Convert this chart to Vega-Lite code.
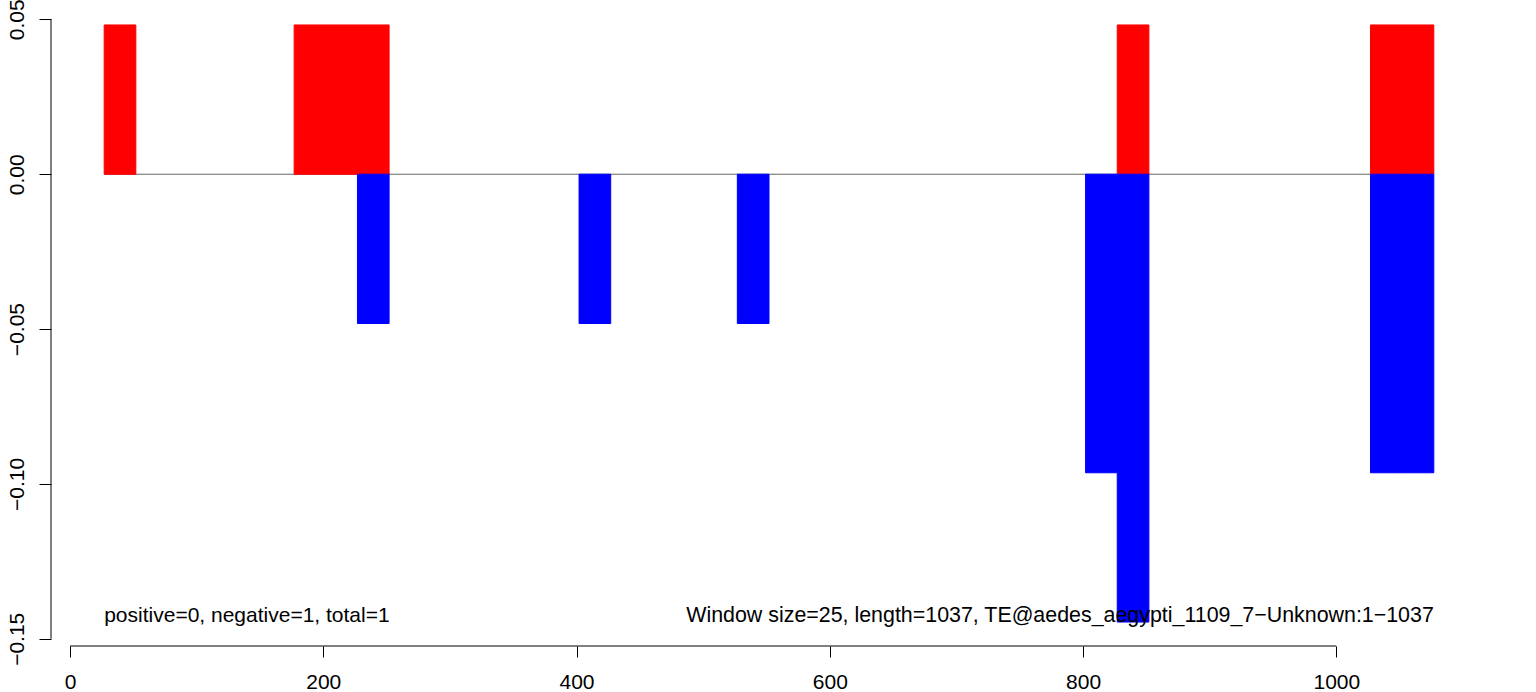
{
  "$schema": "https://vega.github.io/schema/vega-lite/v6.json",
  "width": 1436,
  "height": 645,
  "autosize": {"type": "none"},
  "padding": {"left": 51, "top": 1, "right": 49, "bottom": 46},
  "background": "white",
  "config": {"view": {"stroke": null}, "font": "Liberation Sans"},
  "datasets": {
    "bars": [
      {"start": 27, "end": 52, "value": 0.0482, "sign": "positive"},
      {"start": 177, "end": 202, "value": 0.0482, "sign": "positive"},
      {"start": 202, "end": 227, "value": 0.0482, "sign": "positive"},
      {"start": 227, "end": 252, "value": 0.0482, "sign": "positive"},
      {"start": 827, "end": 852, "value": 0.0482, "sign": "positive"},
      {"start": 1027, "end": 1052, "value": 0.0482, "sign": "positive"},
      {"start": 1052, "end": 1077, "value": 0.0482, "sign": "positive"},
      {"start": 227, "end": 252, "value": -0.0482, "sign": "negative"},
      {"start": 402, "end": 427, "value": -0.0482, "sign": "negative"},
      {"start": 527, "end": 552, "value": -0.0482, "sign": "negative"},
      {"start": 802, "end": 827, "value": -0.0964, "sign": "negative"},
      {"start": 827, "end": 852, "value": -0.1446, "sign": "negative"},
      {"start": 1027, "end": 1052, "value": -0.0964, "sign": "negative"},
      {"start": 1052, "end": 1077, "value": -0.0964, "sign": "negative"}
    ]
  },
  "layer": [
    {
      "data": {"values": [{}]},
      "mark": {"type": "rule", "color": "#666666", "strokeWidth": 1},
      "encoding": {
        "x": {
          "datum": 27, "type": "quantitative",
          "scale": {"domain": [-15, 1119], "nice": false, "zero": false},
          "axis": {
            "values": [0, 200, 400, 600, 800, 1000], "format": "d", "title": null, "grid": false, "domain": false,
            "tickSize": 11, "tickColor": "black", "tickWidth": 1,
            "labelFontSize": 21, "labelColor": "black", "labelPadding": 14, "labelFont": "Liberation Sans", "labelFlush": false
          }
        },
        "x2": {"datum": 1077},
        "y": {
          "datum": 0, "type": "quantitative",
          "scale": {"domain": [-0.15233, 0.05593], "nice": false, "zero": false},
          "axis": {
            "values": [-0.15, -0.1, -0.05, 0, 0.05], "format": ".2f", "title": null, "grid": false, "domain": false,
            "tickSize": 12, "tickColor": "black", "tickWidth": 1,
            "labelAngle": 270, "labelAlign": "center", "labelBaseline": "bottom",
            "labelFontSize": 21, "labelColor": "black", "labelPadding": 12, "labelFont": "Liberation Sans", "labelFlush": false
          }
        }
      }
    },
    {
      "data": {"name": "bars"},
      "mark": {"type": "rect", "strokeWidth": 1},
      "encoding": {
        "x": {"field": "start", "type": "quantitative"},
        "x2": {"field": "end"},
        "y": {"field": "value", "type": "quantitative"},
        "y2": {"datum": 0},
        "color": {"field": "sign", "type": "nominal", "scale": {"domain": ["positive", "negative"], "range": ["#FF0000", "#0000FF"]}, "legend": null},
        "stroke": {"field": "sign", "type": "nominal", "scale": {"domain": ["positive", "negative"], "range": ["#FF0000", "#0000FF"]}, "legend": null}
      }
    },
    {
      "data": {"values": [{}]},
      "mark": {"type": "rule", "color": "black", "strokeWidth": 1},
      "encoding": {
        "x": {"datum": 0, "type": "quantitative"},
        "x2": {"datum": 1000},
        "y": {"datum": -0.15233, "type": "quantitative"}
      }
    },
    {
      "data": {"values": [{}]},
      "mark": {"type": "rule", "color": "black", "strokeWidth": 1},
      "encoding": {
        "x": {"datum": -15, "type": "quantitative"},
        "y": {"datum": -0.15, "type": "quantitative"},
        "y2": {"datum": 0.05}
      }
    },
    {
      "data": {"values": [{"label": "positive=0, negative=1, total=1"}]},
      "mark": {"type": "text", "align": "left", "baseline": "alphabetic", "fontSize": 21, "font": "Liberation Sans", "color": "black"},
      "encoding": {
        "text": {"field": "label"},
        "x": {"datum": 27, "type": "quantitative"},
        "y": {"datum": -0.1447, "type": "quantitative"}
      }
    },
    {
      "data": {"values": [{"label": "Window size=25, length=1037, TE@aedes_aegypti_1109_7−Unknown:1−1037"}]},
      "mark": {"type": "text", "align": "right", "baseline": "alphabetic", "fontSize": 21.4, "font": "Liberation Sans", "color": "black"},
      "encoding": {
        "text": {"field": "label"},
        "x": {"datum": 1077, "type": "quantitative"},
        "y": {"datum": -0.1447, "type": "quantitative"}
      }
    }
  ]
}
